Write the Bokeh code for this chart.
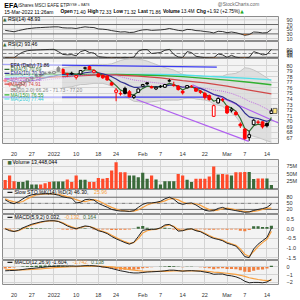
from bokeh.plotting import figure
from bokeh.layouts import column
from bokeh.models import Range1d, FixedTicker
from bokeh.core.properties import value
from bokeh.embed import file_html
from bokeh.resources import INLINE

FONT = "Liberation Sans"

dates = ["Dec16","Dec17","Dec20","Dec21","Dec22","Dec23","Dec27","Dec28","Dec29","Dec30",
         "Dec31","Jan3","Jan4","Jan5","Jan6","Jan7","Jan10","Jan11","Jan12","Jan13",
         "Jan14","Jan18","Jan19","Jan20","Jan21","Jan24","Jan25","Jan26","Jan27","Jan28",
         "Jan31","Feb1","Feb2","Feb3","Feb4","Feb7","Feb8","Feb9","Feb10","Feb11",
         "Feb14","Feb15","Feb16","Feb17","Feb18","Feb22","Feb23","Feb24","Feb25","Feb28",
         "Mar1","Mar2","Mar3","Mar4","Mar7","Mar8","Mar9","Mar10","Mar11","Mar14","Mar15"]
tick_idx = [2, 6, 11, 16, 21, 25, 31, 35, 40, 45, 50, 54, 59]
tick_text = ["20", "27", "2022", "10", "18", "24", "Feb", "7", "14", "22", "Mar", "7", "14"]

opens = [77.4,76.8,75.8,76.0,76.6,77.2,77.7,78.1,78.2,78.6,
         78.8,78.6,79.6,79.3,78.4,78.6,77.9,78.5,79.5,79.8,
         78.8,78.5,78.2,78.1,76.9,75.2,75.0,75.9,75.3,74.3,
         75.2,76.3,76.9,76.2,75.8,76.3,76.1,77.2,76.5,76.3,
         75.4,76.0,76.2,75.9,75.4,75.0,74.6,70.9,73.3,73.9,
         72.7,71.9,71.6,69.5,68.6,67.1,69.4,69.8,69.9,69.6,
         71.40]
highs = [77.8,77.0,76.0,76.7,77.2,77.7,78.0,78.4,78.5,78.9,
         78.9,79.0,79.9,79.5,78.7,78.9,78.3,79.2,79.8,80.0,
         79.3,78.6,78.4,78.3,77.1,76.0,75.4,76.2,75.6,74.8,
         75.9,76.7,77.0,76.4,76.2,76.5,76.7,77.6,77.1,76.5,
         75.6,76.5,76.5,76.0,75.6,75.3,74.8,73.0,74.3,74.2,
         72.9,72.5,71.9,69.8,68.8,68.2,70.4,70.2,70.0,69.8,
         72.33]
lows = [77.0,76.2,75.4,75.9,76.5,77.1,77.6,78.0,78.0,78.4,
        78.5,78.4,78.9,78.5,78.0,78.3,77.5,78.4,79.3,79.2,
        78.6,77.9,77.6,77.3,76.4,73.6,74.6,74.8,74.3,74.0,
        75.1,76.1,76.5,75.9,75.6,76.0,76.0,77.0,76.2,75.5,
        74.8,75.9,76.0,75.3,74.9,73.9,73.7,70.8,73.2,73.5,
        71.3,71.6,71.0,68.8,66.7,66.5,69.3,69.5,68.7,68.9,
        71.32]
closes = [77.2,76.5,75.7,76.6,77.1,77.6,77.9,78.2,78.4,78.6,
          78.7,78.9,79.0,78.6,78.5,78.5,78.2,79.1,79.6,79.3,
          79.1,78.0,77.8,77.4,76.5,75.6,74.9,75.0,74.4,74.6,
          75.8,76.6,76.7,76.0,76.1,76.2,76.6,77.3,76.4,75.7,
          75.1,76.4,76.3,75.4,75.2,74.3,73.9,72.8,74.1,73.8,
          71.5,72.2,71.2,69.2,66.9,67.6,70.2,69.9,69.0,69.2,
          71.86]
volume_m = [30,45,26,23,23,28,15,15,15,19,
            23,25,25,25,32,23,45,31,31,23,
            23,37,34,37,62,89,56,56,45,45,
            39,54,34,45,32,15,26,26,26,50,
            45,31,23,34,34,34,42,75,48,50,
            48,45,56,56,57,57,33,35,35,35,
            13.4]
volume_up = [0,0,0,1,1,1,1,1,0,0,
             0,1,1,1,0,0,0,1,1,0,
             0,0,0,0,0,0,0,0,1,1,
             1,1,1,0,1,1,1,1,1,0,
             0,1,1,0,0,0,0,0,1,0,
             0,1,0,0,0,1,1,0,0,1,
             1]

ema3 = [77.4,77.0,76.3,76.5,76.8,77.2,77.5,77.9,78.1,78.4,
        78.5,78.7,78.9,78.7,78.6,78.6,78.4,78.7,79.2,79.2,
        79.2,78.6,78.2,77.8,77.1,76.4,75.6,75.3,74.9,74.7,
        75.3,75.9,76.3,76.2,76.1,76.2,76.4,76.8,76.6,76.2,
        75.6,76.0,76.2,75.8,75.5,74.9,74.4,73.6,73.9,73.8,
        72.7,72.4,71.8,70.5,68.7,68.2,69.2,69.5,69.3,69.2,
        70.69]
ema10 = [77.6,77.4,77.1,77.0,77.0,77.1,77.3,77.4,77.6,77.8,
         78.0,78.1,78.3,78.4,78.4,78.4,78.4,78.5,78.7,78.8,
         78.9,78.7,78.5,78.3,78.0,77.6,77.1,76.8,76.4,76.1,
         76.1,76.2,76.3,76.2,76.2,76.2,76.3,76.5,76.5,76.3,
         76.1,76.2,76.2,76.0,75.9,75.6,75.2,74.8,74.6,74.4,
         73.9,73.6,73.2,72.5,71.5,70.8,70.6,70.5,70.2,70.0,
         70.30]
ma20 = [77.0,77.0,76.9,76.9,76.9,77.0,77.1,77.2,77.3,77.4,
        77.5,77.6,77.7,77.8,77.9,78.0,78.1,78.2,78.3,78.4,
        78.5,78.5,78.5,78.4,78.3,78.2,78.0,77.8,77.6,77.4,
        77.3,77.2,77.1,77.0,76.9,76.8,76.7,76.6,76.5,76.3,
        76.2,76.2,76.2,76.1,76.0,75.9,75.8,75.6,75.5,75.4,
        75.2,75.0,74.7,74.4,74.0,73.6,73.3,73.0,72.6,72.2,
        71.73]
bb_upper = [78.6,78.6,78.6,78.6,78.6,78.6,78.6,78.6,78.7,78.8,
            79.0,79.2,79.4,79.6,79.7,79.8,79.8,79.8,80.0,80.1,
            80.2,80.2,80.2,80.2,80.3,80.6,80.9,81.1,81.2,81.2,
            81.1,81.0,80.8,80.5,80.2,79.9,79.6,79.4,79.2,78.8,
            78.4,78.2,78.2,78.2,78.1,78.0,78.0,78.1,78.1,78.1,
            78.4,78.5,78.6,79.0,79.6,79.5,79.2,78.8,78.3,77.8,
            77.20]
bb_lower = [75.4,75.4,75.2,75.2,75.2,75.4,75.6,75.8,75.9,76.0,
            76.0,76.0,76.0,76.0,76.1,76.2,76.4,76.6,76.6,76.7,
            76.8,76.8,76.8,76.6,76.3,75.8,75.1,74.5,74.0,73.6,
            73.5,73.4,73.4,73.5,73.6,73.7,73.8,73.8,73.8,73.8,
            74.0,74.2,74.2,74.0,73.9,73.8,73.6,73.1,72.9,72.7,
            72.0,71.5,70.8,69.8,68.4,67.6,67.3,67.1,66.8,66.5,
            66.26]
slow_idx = [0, 5, 10, 15, 20, 25, 30, 35, 40, 45, 50, 55, 60]
ma50 = [77.6,77.8,77.9,78.1,78.3,78.3,78.1,77.8,77.3,76.9,76.3,75.6,74.91]
ma150 = [78.3,78.4,78.4,78.4,78.4,78.4,78.3,78.2,78.0,77.7,77.4,77.0,76.55]
ma200 = [77.9,78.0,78.1,78.2,78.3,78.4,78.4,78.4,78.3,78.1,77.9,77.7,77.44]

trend_x0 = [-0.6, -0.6, 29.6, 42.2]
trend_y0 = [80.2, 74.35, 73.9, 76.55]
trend_x1 = [47.7, 46.0, 54.9, 61.6]
trend_y1 = [79.7, 74.35, 66.4, 69.7]
trend_color = ["#3b3bf0", "#3b3bf0", "#b060f0", "#b060f0"]

rsi14 = [45,42,39,44,48,52,54,56,57,58,
         59,60,60,56,55,55,53,57,60,58,
         57,51,50,48,44,41,38,39,36,37,
         43,47,48,45,46,47,49,53,49,45,
         43,49,48,44,43,40,38,34,41,40,
         35,38,35,30,24,27,38,37,34,35,
         48.93]
rsi2 = [5,3,2,40,65,80,85,88,90,92,
        94,95,70,40,35,38,25,70,85,60,
        55,15,10,6,3,6,4,8,4,10,
        75,92,93,50,55,60,85,95,40,12,
        6,70,60,20,12,5,4,3,45,35,
        8,30,10,4,2,8,70,55,35,40,
        93.46]
sto_k = [67,55,48,58,72,85,92,95,96,97,
         97,95,90,82,78,75,52,55,68,70,
         66,50,40,31,20,15,12,12,10,14,
         30,45,52,52,55,60,72,80,70,52,
         45,50,52,42,28,16,12,14,25,30,
         22,18,14,10,6,8,15,20,24,30,
         46.30]
sto_d = [72,63,57,54,59,72,83,91,94,96,
         97,96,94,89,83,78,68,61,58,64,
         68,62,52,40,30,22,16,13,11,12,
         18,30,42,50,53,56,62,71,74,67,
         56,49,49,48,41,29,19,14,17,23,
         26,23,18,14,10,8,10,14,20,25,
         25.96]
macd5 = [0.00,-0.10,-0.14,-0.08,0.05,0.15,0.24,0.30,0.36,0.40,
         0.42,0.42,0.38,0.28,0.15,0.06,0.00,0.08,0.15,0.12,
         0.02,-0.10,-0.16,-0.25,-0.40,-0.52,-0.62,-0.72,-0.80,-0.70,
         -0.40,-0.08,-0.04,-0.03,-0.02,0.05,0.20,0.23,0.10,-0.12,
         -0.10,-0.02,0.00,-0.10,-0.15,-0.27,-0.40,-0.50,-0.55,-0.62,
         -0.75,-0.82,-0.90,-1.15,-1.45,-1.50,-1.05,-0.80,-0.62,-0.45,
         0.032]
macd5_sig = [0.02,-0.06,-0.13,-0.10,0.00,0.11,0.20,0.27,0.33,0.38,
             0.41,0.42,0.39,0.31,0.20,0.10,0.03,0.06,0.12,0.12,
             0.05,-0.06,-0.13,-0.21,-0.34,-0.46,-0.57,-0.67,-0.76,-0.72,
             -0.51,-0.22,-0.10,-0.05,-0.03,0.03,0.15,0.20,0.13,-0.04,
             -0.08,-0.04,-0.01,-0.07,-0.13,-0.23,-0.35,-0.45,-0.52,-0.59,
             -0.70,-0.78,-0.86,-1.05,-1.32,-1.44,-1.18,-0.93,-0.72,-0.54,
             -0.132]
macd12 = [-0.50,-0.47,-0.45,-0.40,-0.33,-0.25,-0.20,-0.14,-0.08,-0.02,
          0.05,0.08,0.12,0.12,0.12,0.13,0.10,0.12,0.16,0.17,
          0.15,0.08,0.00,-0.08,-0.20,-0.35,-0.50,-0.60,-0.72,-0.78,
          -0.78,-0.72,-0.66,-0.63,-0.60,-0.56,-0.50,-0.42,-0.42,-0.48,
          -0.55,-0.50,-0.48,-0.52,-0.56,-0.66,-0.76,-0.95,-0.92,-0.92,
          -1.08,-1.15,-1.28,-1.50,-1.85,-2.05,-2.00,-2.00,-2.05,-1.95,
          -1.604]
macd12_sig = [-0.30,-0.33,-0.36,-0.38,-0.37,-0.35,-0.32,-0.29,-0.25,-0.20,
              -0.15,-0.10,-0.06,-0.03,-0.01,0.02,0.04,0.06,0.08,0.10,
              0.11,0.10,0.08,0.05,0.00,-0.07,-0.15,-0.24,-0.34,-0.42,
              -0.49,-0.54,-0.56,-0.58,-0.58,-0.58,-0.57,-0.54,-0.52,-0.51,
              -0.52,-0.51,-0.51,-0.51,-0.52,-0.55,-0.59,-0.66,-0.71,-0.76,
              -0.82,-0.89,-0.97,-1.08,-1.23,-1.40,-1.52,-1.62,-1.71,-1.76,
              -1.742]

N = len(dates)
xs = list(range(N))
X0, X1 = -0.6, 61.6
xr = Range1d(X0, X1)
FRAME_L, FRAME_W = 2, 278

GREEN = "#3a6a3a"
RED = "#ff4a2a"
ORANGE = "#f7a040"
BG = "#f3f3f3"
LS = 5.2

_REG = {" ": 278, "%": 889, "(": 333, ")": 333, "+": 584, ",": 278, "-": 333, ".": 278, ":": 278,
        "@": 1015, "A": 667, "B": 667, "C": 722, "D": 722, "E": 667, "F": 611, "H": 722, "I": 278,
        "K": 667, "L": 556, "M": 833, "N": 722, "O": 778, "R": 722, "S": 667, "T": 611, "V": 667,
        "Y": 667, "a": 556, "c": 500, "d": 556, "e": 556, "g": 556, "h": 556, "i": 222, "k": 500,
        "l": 222, "m": 833, "n": 556, "o": 556, "r": 333, "s": 500, "t": 278, "u": 556, "w": 722,
        "y": 500}
_BOLD = {"O": 778, "H": 722, "L": 611, "V": 667, "C": 722, "p": 611, "e": 556, "n": 611, "i": 278,
         "g": 611, "h": 611, "o": 611, "w": 778, "a": 556, "s": 556, "t": 333, "l": 278, "u": 611,
         "m": 889, " ": 278}


def tw(s, size, bold=False):
    tot = 0
    for ch in s:
        if ch.isdigit():
            tot += 556
        elif bold and ch in _BOLD:
            tot += _BOLD[ch]
        else:
            tot += _REG.get(ch, 556)
    return 1.06 * tot / 1000.0 * size


def txt(p, x, y, s, size=LS, color="black", bold=False, align="left", font=FONT):
    p.text(x=[x], y=[y], text=[s], text_font=value(font), text_font_size=f"{size}px",
           text_color=color, text_font_style="bold" if bold else "normal",
           text_align=align, text_baseline="middle")


def px2x(px):
    return X0 + (px - FRAME_L) * (X1 - X0) / FRAME_W


def seq(p, px0, y, parts, size=LS, conv=px2x):
    x = px0
    for s, col, bold, gap in parts:
        txt(p, conv(x), y, s, size, col, bold)
        x += tw(s, size, bold) + gap
    return x


def panel(height, y0, y1, yticks, ylabels=None, xaxis=False, hgrid=True):
    p = figure(width=300, height=height, x_range=xr, y_range=Range1d(y0, y1),
               output_backend="svg", toolbar_location=None,
               y_axis_location="right", x_axis_location="below" if xaxis else None,
               min_border_left=FRAME_L, min_border_right=300 - FRAME_L - FRAME_W,
               min_border_top=0, min_border_bottom=0)
    p.background_fill_color = BG
    p.border_fill_color = "white"
    p.outline_line_color = "#8c8c8c"
    ya = p.yaxis[0]
    ya.ticker = FixedTicker(ticks=yticks)
    if ylabels:
        ya.major_label_overrides = {t: l for t, l in zip(yticks, ylabels)}
    ya.axis_line_color = None
    ya.major_tick_line_color = None
    ya.minor_tick_line_color = None
    ya.major_label_text_font = FONT
    ya.major_label_text_font_size = "5.5px"
    ya.major_label_text_color = "#333333"
    ya.major_label_standoff = 2
    p.xgrid.ticker = FixedTicker(ticks=tick_idx)
    p.xgrid.grid_line_color = "#d4d4d4"
    p.ygrid.ticker = FixedTicker(ticks=yticks)
    p.ygrid.grid_line_color = "#d4d4d4" if hgrid else None
    if xaxis:
        xa = p.xaxis[0]
        xa.ticker = FixedTicker(ticks=tick_idx)
        xa.major_label_overrides = {i: t for i, t in zip(tick_idx, tick_text)}
        xa.axis_line_color = None
        xa.major_tick_line_color = None
        xa.minor_tick_line_color = None
        xa.major_label_text_font = FONT
        xa.major_label_text_font_size = "5.5px"
        xa.major_label_text_color = "#333333"
        xa.major_label_standoff = 1
    return p


# ---------- header ----------
hdr = figure(width=300, height=16, x_range=Range1d(0, 300), y_range=Range1d(16, 0),
             output_backend="svg", toolbar_location=None, x_axis_location=None,
             y_axis_location=None, min_border=0)
hdr.outline_line_color = None
hdr.xgrid.visible = False
hdr.ygrid.visible = False
ident = lambda v: v
txt(hdr, 2, 4.6, "EFA", size=7, bold=True)
txt(hdr, 17, 4.7, "iShares MSCI EAFE ETF", size=4.5, color="#222222")
txt(hdr, 71, 4.9, "NYSE + BATS", size=3.4, color="#222222")
txt(hdr, 279, 3.6, "@StockCharts.com", size=4.8, color="#666666", align="right")
txt(hdr, 2, 11.2, "15-Mar-2022 11:26am", size=5.0)
hparts = [("Open", "black", True, 1.3), ("71.40", "black", False, 2.6),
          ("High", "black", True, 1.3), ("72.33", "black", False, 2.6),
          ("Low", "black", True, 1.3), ("71.32", "black", False, 2.6),
          ("Last", "black", True, 1.3), ("71.86", "black", False, 2.6),
          ("Volume", "black", True, 1.3), ("13.4M", "black", False, 2.6),
          ("Chg", "black", True, 1.3), ("+1.92 (+2.75%)", "black", False, 1.2)]
end_x = seq(hdr, 63, 11.2, hparts, size=4.8, conv=ident)
txt(hdr, end_x, 11.2, "\u25b2", size=4.5, color="#22aa22", font="DejaVu Sans")

# ---------- RSI(14) ----------
r14 = panel(25, -2.6, 104.3, [10, 30, 50, 70, 90], hgrid=False)
for lv, c in [(90, "#d0d0d0"), (70, "#666666"), (50, "#d0d0d0"), (30, "#666666"), (10, "#d0d0d0")]:
    r14.line(x=[X0, X1], y=[lv, lv], line_color=c, line_width=1)
r14.varea(x=xs, y1=[max(v, 70) for v in rsi14], y2=[70] * N, fill_color=GREEN)
r14.varea(x=xs, y1=[min(v, 30) for v in rsi14], y2=[30] * N, fill_color="#f08030")
r14.line(x=xs, y=rsi14, line_color="#333333", line_width=1)
txt(r14, px2x(2.5), 93.6, "\u25b2", size=4.5, color=GREEN, font="DejaVu Sans")
txt(r14, px2x(7.5), 93.6, "RSI(14) 48.93")

# ---------- RSI(2) ----------
r2 = panel(17, -4.3, 180, [10, 30, 50, 70, 90], hgrid=False)
for lv, c, d in [(90, "#666666", "solid"), (50, "#888888", "4 2"), (10, "#666666", "solid")]:
    r2.line(x=[X0, X1], y=[lv, lv], line_color=c, line_width=1, line_dash=d)
r2.varea(x=xs, y1=[max(v, 90) for v in rsi2], y2=[90] * N, fill_color=GREEN)
r2.varea(x=xs, y1=[min(v, 10) for v in rsi2], y2=[10] * N, fill_color="#f08030")
r2.line(x=xs, y=rsi2, line_color="#333333", line_width=1)
txt(r2, px2x(2.5), 150, "\u25b2", size=4.5, color=GREEN, font="DejaVu Sans")
txt(r2, px2x(7.5), 150, "RSI(2) 93.46")

# ---------- Price ----------
pr = panel(101, 66.02, 81.26, list(range(67, 81)), xaxis=True)
pr.varea(x=xs, y1=bb_upper, y2=bb_lower, fill_color="#d9d9d9", fill_alpha=0.8)
pr.line(x=xs, y=bb_upper, line_color="#c4c4c4", line_width=1)
pr.line(x=xs, y=bb_lower, line_color="#c4c4c4", line_width=1)
pr.line(x=slow_idx, y=ma200, line_color="#50e0e8", line_width=1.3)
pr.line(x=slow_idx, y=ma150, line_color="#30b030", line_width=1.3)
pr.line(x=slow_idx, y=ma50, line_color="#d04848", line_width=1.3)
pr.line(x=xs, y=ma20, line_color="#c070e0", line_width=1, line_dash="1 1")
pr.segment(x0=trend_x0, y0=trend_y0, x1=trend_x1, y1=trend_y1, line_color=trend_color, line_width=1.2)
pr.line(x=xs, y=ema10, line_color="#303090", line_width=1.2)
pr.line(x=xs, y=ema3, line_color="#2f6a2f", line_width=1.2)
prev = [opens[0]] + closes[:-1]
ccol = ["black" if c >= pc else "red" for c, pc in zip(closes, prev)]
cfill = [col if c < o else "white" for c, o, col in zip(closes, opens, ccol)]
pr.segment(x0=xs, y0=lows, x1=xs, y1=highs, line_color=ccol, line_width=1)
pr.vbar(x=xs, width=0.62, top=[max(o, c) for o, c in zip(opens, closes)],
        bottom=[min(o, c) for o, c in zip(opens, closes)], fill_color=cfill, line_color=ccol,
        line_width=1)
pr.rect(x=[N - 0.2], y=[closes[-1]], width=0.9, height=0.9, fill_color="#ffe680",
        line_color="#555555", line_width=0.8)
leg = [("EFA (Daily) 71.86", "black", None), ("EMA(3) 70.69", "#2f6a2f", "#2f6a2f"),
       ("EMA(10) 70.30", "#303090", "#303090"), ("MA(20) 71.73", "#b050d0", "#c070e0"),
       ("MA(50) 74.91", "#d04848", "#d04848"), ("BB(20,2.0) 66.26 - 71.73 - 77.20", "#888888", None),
       ("MA(150) 76.55", "#30a030", "#30b030"), ("MA(200) 77.44", "#30c8d0", "#50e0e8")]
leg_y = [80.11, 79.30, 78.59, 77.66, 76.67, 75.57, 74.75, 74.0]
pr.quad(left=[X0], right=[px2x(62)], top=[80.6], bottom=[73.5], fill_color="white",
        fill_alpha=0.55, line_color=None)
for (s, c, lc), yy in zip(leg, leg_y):
    if lc:
        pr.line(x=[px2x(4), px2x(9)], y=[yy, yy], line_color=lc, line_width=1.2)
    txt(pr, px2x(10), yy, s, size=5.0, color=c)

# ---------- Volume ----------
vo = panel(30, -1.7, 98.3, [25, 50, 75], ["25M", "50M", "75M"])
vcol = [GREEN if u else RED for u in volume_up]
vo.vbar(x=xs, width=0.72, top=volume_m, bottom=0, fill_color=vcol, line_color=None)
txt(vo, px2x(7), 89, "\u25a0", size=4.5, color=GREEN, font="DejaVu Sans")
txt(vo, px2x(12), 89, "Volume 13,448,044")

# ---------- Slow STO ----------
st = panel(25, -4.9, 118, [20, 50, 80], hgrid=False)
st.line(x=[X0, X1], y=[80, 80], line_color="#666666")
st.line(x=[X0, X1], y=[20, 20], line_color="#666666")
st.line(x=[X0, X1], y=[50, 50], line_color="#777777", line_dash="4 1 1 1")
st.line(x=xs, y=sto_d, line_color=ORANGE, line_width=1.2)
st.line(x=xs, y=sto_k, line_color="#222222", line_width=1)
st.line(x=[px2x(7), px2x(12)], y=[104, 104], line_color="#222222", line_width=1.2)
seq(st, 14, 104, [("Slow STO %K(14) %D(3) 46.30,", "black", False, 1.5),
                  ("25.96", ORANGE, False, 0)])

# ---------- MACD(5,9,2) ----------
m5 = panel(46, -1.65, 0.745, [-1.5, -1.0, -0.5, 0.0, 0.5], ["-1.5", "-1.0", "-0.5", "0.0", "0.5"])
h5 = [a - b for a, b in zip(macd5, macd5_sig)]
m5.vbar(x=xs, width=0.7, top=[max(h, 0) for h in h5], bottom=[min(h, 0) for h in h5],
        fill_color=[GREEN if h >= 0 else "#f08040" for h in h5], line_color=None)
m5.line(x=xs, y=macd5_sig, line_color=ORANGE, line_width=1.2)
m5.line(x=xs, y=macd5, line_color="#222222", line_width=1)
m5.line(x=[px2x(7), px2x(12)], y=[0.6, 0.6], line_color="#222222", line_width=1.2)
seq(m5, 14, 0.6, [("MACD(5,9,2) 0.032,", "black", False, 1.5),
                  ("-0.132,", ORANGE, False, 1.5), ("0.164", GREEN, False, 0)])

# ---------- MACD(12,26,9) ----------
m12 = panel(40, -2.27, 0.83, [-2, -1, 0], xaxis=True)
h12 = [a - b for a, b in zip(macd12, macd12_sig)]
m12.vbar(x=xs, width=0.7, top=[max(h, 0) for h in h12], bottom=[min(h, 0) for h in h12],
         fill_color=[GREEN if h >= 0 else "#f08040" for h in h12], line_color=None)
m12.line(x=xs, y=macd12_sig, line_color=ORANGE, line_width=1.2)
m12.line(x=xs, y=macd12, line_color="#222222", line_width=1)
m12.line(x=[px2x(7), px2x(12)], y=[0.58, 0.58], line_color="#222222", line_width=1.2)
seq(m12, 14, 0.58, [("MACD(12,26,9) -1.604,", "black", False, 1.5),
                    ("-1.742,", ORANGE, False, 1.5), ("0.138", GREEN, False, 0)])

layout = column(hdr, r14, r2, pr, vo, st, m5, m12, spacing=0)
open("out.html", "w").write(file_html(layout, INLINE))
